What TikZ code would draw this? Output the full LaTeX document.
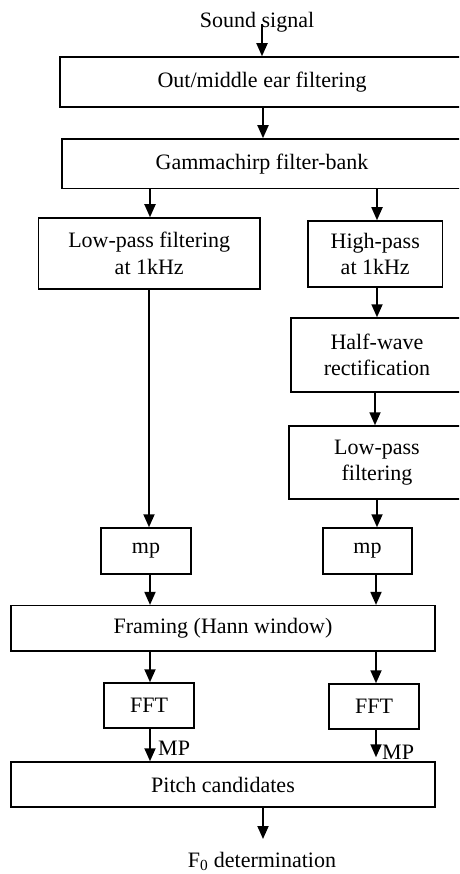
\documentclass[tikz,border=0pt]{standalone}
\usepackage{fontspec}
\setmainfont{Liberation Serif}
\usetikzlibrary{arrows.meta}
\begin{document}
\begin{tikzpicture}[x=1pt,y=-1pt,
  box/.style={draw, line width=1.5pt, rectangle, inner sep=0pt, align=center,
    font=\fontsize{22}{26.5}\selectfont},
  lbl/.style={inner sep=0pt, font=\fontsize{22}{26.5}\selectfont},
  arr/.style={line width=1.8pt, -{Triangle[length=13pt,width=11pt]}}]
\clip (0,0) rectangle (459,874);
\fill[white] (0,0) rectangle (459,874);
% columns
\coordinate (cL) at (150,0);
\coordinate (cR) at (377,0);
% nodes
\node[lbl, anchor=base] (sound) at (257,28) {Sound signal};
\coordinate (soundarr) at (262,24);
\node[box, minimum width=404pt, minimum height=50pt] (out) at (262,82) {Out/middle ear filtering};
\node[box, minimum width=400pt, minimum height=49.5pt] (gam) at (262,163.7) {Gammachirp filter-bank};
\node[box, minimum width=221.5pt, minimum height=71pt] (lp1) at (149.25,253.5) {Low-pass filtering\\at 1kHz};
\node[box, minimum width=134.5pt, minimum height=66pt] (hp) at (375.25,254) {High-pass\\at 1kHz};
\node[box, minimum width=172pt, minimum height=74pt] (hw) at (377,355) {Half-wave\\rectification};
\node[box, minimum width=176pt, minimum height=73pt] (lp2) at (377,462.5) {Low-pass\\filtering};
\node[box, minimum width=90pt, minimum height=46pt] (mp1) at (146,551) {mp};
\node[box, minimum width=89pt, minimum height=46pt] (mp2) at (367.5,551) {mp};
\node[box, minimum width=424pt, minimum height=45.3pt] (frame) at (223,628.3) {Framing (Hann window)};
\node[box, minimum width=90pt, minimum height=45pt] (fft1) at (149,705.5) {FFT};
\node[box, minimum width=90pt, minimum height=45pt] (fft2) at (374,706.5) {FFT};
\node[box, minimum width=424pt, minimum height=45pt] (pitch) at (223,784.5) {Pitch candidates};
\node[lbl, anchor=base] (f0) at (262,867) {F\textsubscript{0} determination};
\coordinate (f0arr) at (263,839);
\node[lbl, anchor=base west] (mpl) at (158,755) {MP};
\node[lbl, anchor=base west] (mpr) at (382,759) {MP};
% connectors
\draw[arr] (soundarr) -- (out.north -| soundarr);
\draw[arr] (out.south -| 263,0) -- (gam.north -| 263,0);
\draw[arr] (gam.south -| cL) -- (lp1.north -| cL);
\draw[arr] (gam.south -| cR) -- (hp.north -| cR);
\draw[arr] (lp1.south -| 149,0) -- (mp1.north -| 149,0);
\draw[arr] (hp.south -| cR) -- (hw.north -| cR);
\draw[arr] (hw.south -| 375,0) -- (lp2.north -| 375,0);
\draw[arr] (lp2.south -| cR) -- (mp2.north -| cR);
\draw[arr] (mp1.south -| cL) -- (frame.north -| cL);
\draw[arr] (mp2.south -| 376,0) -- (frame.north -| 376,0);
\draw[arr] (frame.south -| cL) -- (fft1.north -| cL);
\draw[arr] (frame.south -| 376,0) -- (fft2.north -| 376,0);
\draw[arr] (fft1.south -| cL) -- (pitch.north -| cL);
\draw[arr] (fft2.south -| 376,0) -- ([yshift=4pt]pitch.north -| 376,0);
\draw[arr] (pitch.south -| f0arr) -- (f0arr);
\end{tikzpicture}
\end{document}
